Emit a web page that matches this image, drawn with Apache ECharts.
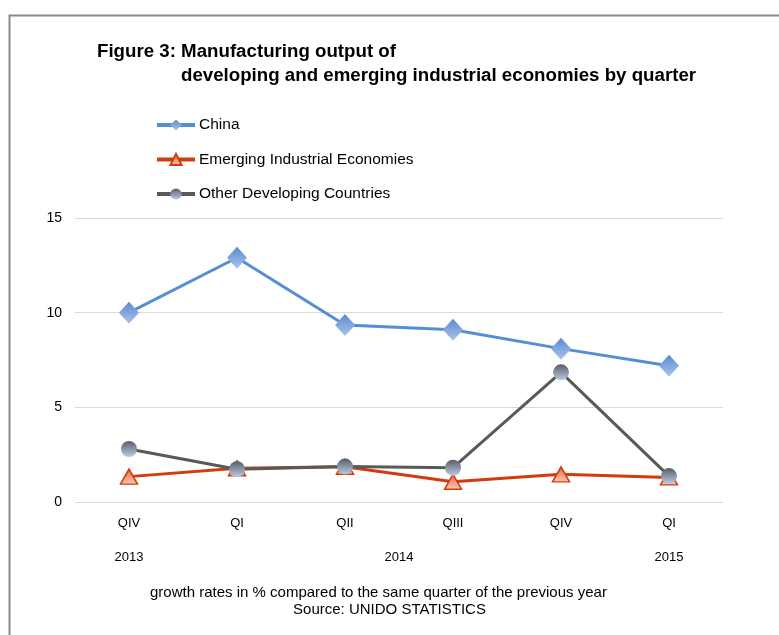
<!DOCTYPE html>
<html><head><meta charset="utf-8">
<script src="https://cdn.jsdelivr.net/npm/echarts@6/dist/echarts.min.js"></script>
<style>html,body{margin:0;padding:0;background:#fff}#c{width:779px;height:635px}</style>
</head><body><div id="c"></div>
<script>
const categories = ['QIV', 'QI', 'QII', 'QIII', 'QIV', 'QI'];
const years = [{pos: 0.5, label: '2013'}, {pos: 3, label: '2014'}, {pos: 5.5, label: '2015'}];
const china = [10.0, 12.9, 9.35, 9.1, 8.1, 7.2];
const emerging = [1.34, 1.78, 1.86, 1.07, 1.46, 1.3];
const otherDev = [2.8, 1.73, 1.87, 1.81, 6.85, 1.37];
const yTicks = {min: 0, max: 15, interval: 5};

const FONT = 'Liberation Sans, Arial, sans-serif';
const grad = (a, b) => new echarts.graphic.LinearGradient(0, 0, 0, 1, [{offset: 0, color: a}, {offset: 1, color: b}]);

const chart = echarts.init(document.getElementById('c'), null, {renderer: 'canvas'});
const yearPos = years.map(y => y.pos);
const yearLabel = {};
years.forEach(y => yearLabel[y.pos] = y.label);

chart.setOption({
  animation: false,
  backgroundColor: '#fff',
  textStyle: {fontFamily: FONT},
  grid: {left: 75, right: 56, top: 218, bottom: 133, containLabel: false},
  legend: {
    orient: 'vertical', left: 150, top: 112, itemWidth: 38, itemHeight: 14, itemGap: 18.5,
    lineStyle: {width: 4},
    textStyle: {fontSize: 15.5, color: '#000', fontFamily: FONT, padding: [0, 0, 0, -1]},
    data: ['China', 'Emerging Industrial Economies', 'Other Developing Countries']
  },
  xAxis: [{
    type: 'category', data: categories, boundaryGap: true,
    axisLine: {show: false}, axisTick: {show: false},
    axisLabel: {color: '#000', fontSize: 13, margin: 15, fontFamily: FONT}
  }, {
    type: 'value', min: 0, max: 6, position: 'bottom', offset: 34,
    axisLine: {show: false}, axisTick: {show: false}, splitLine: {show: false},
    axisLabel: {customValues: yearPos, color: '#000', fontSize: 13, margin: 15, fontFamily: FONT,
      formatter: v => yearLabel[v] || ''}
  }],
  yAxis: {
    type: 'value', min: yTicks.min, max: yTicks.max, interval: yTicks.interval,
    axisLine: {show: false}, axisTick: {show: false},
    axisLabel: {color: '#000', fontSize: 14, margin: 13, fontFamily: FONT},
    splitLine: {lineStyle: {color: '#d9d9d9', width: 1}}
  },
  series: [{
    name: 'China', type: 'line', data: china, xAxisIndex: 0,
    symbol: 'diamond', symbolSize: [20, 22],
    lineStyle: {color: '#558ED5', width: 3},
    itemStyle: {color: grad('#5A8AD0', '#A9C4EA'), borderWidth: 0},
    z: 3
  }, {
    name: 'Emerging Industrial Economies', type: 'line', data: emerging, xAxisIndex: 0,
    symbol: 'triangle', symbolSize: [17, 15],
    lineStyle: {color: '#D23C0C', width: 3},
    itemStyle: {color: grad('#E8603A', '#F7CDBE'), borderColor: '#D23C0C', borderWidth: 1.5},
    z: 4
  }, {
    name: 'Other Developing Countries', type: 'line', data: otherDev, xAxisIndex: 0,
    symbol: 'circle', symbolSize: 16,
    lineStyle: {color: '#595959', width: 3},
    itemStyle: {color: grad('#5a5f66', '#B9CBE4'), borderWidth: 0},
    z: 5
  }],
  graphic: [
    {type: 'rect', shape: {x: 9.5, y: 15.5, width: 800, height: 700}, style: {fill: null, stroke: '#8a8a8a', lineWidth: 2}, silent: true},
    {type: 'text', left: 97, top: 42, style: {text: 'Figure 3: Manufacturing output of', font: 'bold 18.7px ' + FONT, fill: '#000'}},
    {type: 'text', left: 181, top: 66, style: {text: 'developing and emerging industrial economies by quarter', font: 'bold 18.7px ' + FONT, fill: '#000'}},
    {type: 'text', left: 150, top: 585, style: {text: 'growth rates in % compared to the same quarter of the previous year', font: '15px ' + FONT, fill: '#000'}},
    {type: 'text', left: 'center', top: 602, style: {text: 'Source: UNIDO STATISTICS', font: '15px ' + FONT, fill: '#000'}, x: -11}
  ]
});
</script></body></html>
